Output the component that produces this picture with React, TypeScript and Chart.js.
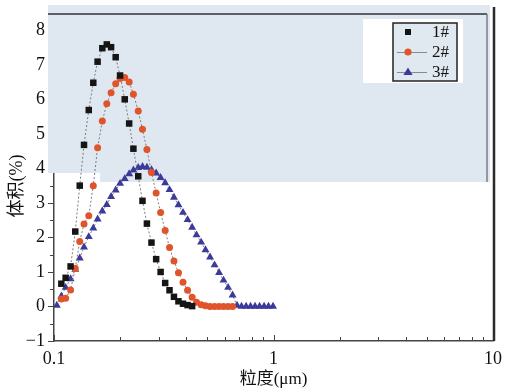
import React, { useEffect, useRef } from 'react';
import { Chart, registerables } from 'chart.js';

Chart.register(...registerables);

// particle size bins (μm)
const SIZE_UM = [
  0.103, 0.108, 0.113, 0.119, 0.125, 0.131, 0.137, 0.144, 0.151, 0.158,
  0.166, 0.174, 0.182, 0.191, 0.200, 0.210, 0.220, 0.230, 0.242, 0.253,
  0.265, 0.278, 0.292, 0.306, 0.321, 0.336, 0.352, 0.369, 0.387, 0.406,
  0.426, 0.446, 0.468, 0.490, 0.514, 0.539, 0.565, 0.592, 0.621, 0.651,
  0.682, 0.715, 0.750, 0.786, 0.824, 0.864, 0.906, 0.949, 0.995,
];

// volume (%) for each sample, null = no point
const SAMPLE_1 = [
  null, 0.66, 0.83, 1.16, 2.17, 3.5, 4.68, 5.69, 6.48, 7.09,
  7.48, 7.59, 7.51, 7.22, 6.69, 6.0, 5.3, 4.57, 3.77, 3.06,
  2.4, 1.85, 1.37, 1.0, 0.68, 0.47, 0.28, 0.15, 0.08, 0.04,
  0.01, null, null, null, null, null, null, null, null, null,
  null, null, null, null, null, null, null, null, null,
];
const SAMPLE_2 = [
  null, 0.22, 0.24, 0.48, 1.1, 1.88, 2.39, 2.63, 3.5, 4.6,
  5.37, 5.87, 6.19, 6.45, 6.6, 6.63, 6.5, 6.15, 5.66, 5.13,
  4.55, 3.88, 3.29, 2.72, 2.2, 1.71, 1.32, 0.98, 0.7, 0.47,
  0.27, 0.12, 0.05, 0.02, 0, 0, 0, 0, 0, 0,
  null, null, null, null, null, null, null, null, null,
];
const SAMPLE_3 = [
  0.03, 0.3, 0.55, 0.8, 1.07, 1.4, 1.72, 2.02, 2.27, 2.53,
  2.76, 2.95, 3.18, 3.37, 3.56, 3.7, 3.84, 3.95, 4.02, 4.05,
  4.03, 3.96, 3.86, 3.73, 3.58, 3.38, 3.16, 2.94, 2.72, 2.51,
  2.29, 2.07, 1.86, 1.64, 1.43, 1.2, 0.98, 0.76, 0.55, 0.33,
  0.03, 0, 0, 0, 0, 0, 0, 0, 0,
];

const SERIES_NAMES = ['1#', '2#', '3#'];
const X_TICKS = [0.1, 1, 10];
const Y_TICKS = [-1, 0, 1, 2, 3, 4, 5, 6, 7, 8];
const X_TITLE = '粒度(μm)';
const Y_TITLE = '体积(%)';

const SERIF = "'Liberation Serif', 'Noto Sans CJK SC', serif";
const C_BLACK = '#151515';
const C_RED = '#e0542c';
const C_BLUE = '#3b3a9a';
const PANEL = '#dfe8f0';

function pairs(values: (number | null)[]) {
  return SIZE_UM.map((x, i) => ({ x, y: values[i] })).filter((p) => p.y !== null);
}

function drawSymbol(ctx: CanvasRenderingContext2D, style: string, x: number, y: number, color: string) {
  ctx.fillStyle = color;
  ctx.beginPath();
  if (style === 'rect') {
    ctx.rect(x - 3, y - 3, 6, 6);
  } else if (style === 'circle') {
    ctx.arc(x, y, 3.6, 0, Math.PI * 2);
  } else {
    ctx.moveTo(x, y - 4.5);
    ctx.lineTo(x + 4.6, y + 3);
    ctx.lineTo(x - 4.6, y + 3);
    ctx.closePath();
  }
  ctx.fill();
}

const decor = {
  id: 'decor',
  beforeDatasetsDraw(chart: any) {
    const { ctx, chartArea: a, scales } = chart;
    const xs = scales.x;
    const ys = scales.y;
    ctx.save();
    // tick marks: y outward, x inward
    ctx.strokeStyle = '#444';
    ctx.lineWidth = 1;
    for (let v = Y_TICKS[0]; v <= Y_TICKS[Y_TICKS.length - 1]; v += 0.5) {
      const py = Math.round(ys.getPixelForValue(v)) + 0.5;
      const len = Number.isInteger(v) ? 6 : 4;
      ctx.beginPath();
      ctx.moveTo(a.left - len, py);
      ctx.lineTo(a.left, py);
      ctx.stroke();
    }
    for (let d = 0; d < X_TICKS.length; d++) {
      const base = X_TICKS[d];
      const kMax = d === X_TICKS.length - 1 ? 1 : 9;
      for (let k = 1; k <= kMax; k++) {
        const px = Math.round(xs.getPixelForValue(base * k)) + 0.5;
        const len = k === 1 ? 6 : 4;
        ctx.beginPath();
        ctx.moveTo(px, a.bottom);
        ctx.lineTo(px, a.bottom - len);
        ctx.stroke();
      }
    }
    // light panel over upper part
    ctx.fillStyle = PANEL;
    ctx.fillRect(a.left - 6, a.top - 8, 52, 168);
    ctx.fillRect(a.left + 46, a.top - 8, a.right - 3 - (a.left + 46), 177);
    ctx.strokeStyle = '#5a5f66';
    ctx.lineWidth = 2;
    ctx.beginPath();
    ctx.moveTo(a.left - 6, a.top + 1);
    ctx.lineTo(a.right - 6, a.top + 1);
    ctx.stroke();
    ctx.strokeStyle = '#7a7f86';
    ctx.lineWidth = 1.5;
    ctx.beginPath();
    ctx.moveTo(a.right - 6, a.top + 1);
    ctx.lineTo(a.right - 6, a.top + 169);
    ctx.stroke();
    // right axis
    ctx.strokeStyle = '#2a2a2a';
    ctx.lineWidth = 2.5;
    ctx.beginPath();
    ctx.moveTo(a.right + 1, a.top - 6);
    ctx.lineTo(a.right + 1, a.bottom);
    ctx.stroke();
    ctx.restore();
  },
  afterDraw(chart: any) {
    const { ctx, chartArea: a } = chart;
    ctx.save();
    ctx.fillStyle = '#ffffff';
    ctx.fillRect(a.right - 130, a.top + 6, 100, 64);
    ctx.fillStyle = '#e1e9f0';
    ctx.fillRect(a.right - 100, a.top + 10, 64, 58);
    ctx.strokeStyle = '#222';
    ctx.lineWidth = 1.5;
    ctx.strokeRect(a.right - 100, a.top + 10, 64, 58);
    const styles = ['rect', 'circle', 'triangle'];
    const colors = [C_BLACK, C_RED, C_BLUE];
    SERIES_NAMES.forEach((name, i) => {
      const cy = a.top + 19 + i * 20;
      if (i > 0) {
        ctx.strokeStyle = '#8a8a8a';
        ctx.lineWidth = 1;
        ctx.beginPath();
        ctx.moveTo(a.right - 96, cy + 0.5);
        ctx.lineTo(a.right - 66, cy + 0.5);
        ctx.stroke();
      }
      drawSymbol(ctx, styles[i], a.right - 85, cy, colors[i]);
      ctx.fillStyle = '#111';
      ctx.font = `17px ${SERIF}`;
      ctx.textBaseline = 'middle';
      ctx.textAlign = 'left';
      ctx.fillText(name, a.right - 61, cy + 1);
    });
    ctx.restore();
  },
};

export default function App() {
  const ref = useRef<HTMLCanvasElement | null>(null);

  useEffect(() => {
    if (!ref.current) return;
    const line = { showLine: true, borderColor: '#7c7c7c', borderWidth: 1, borderDash: [2, 2], pointBorderWidth: 0 };
    const chart = new Chart(ref.current, {
      type: 'scatter',
      data: {
        datasets: [
          {
            ...line,
            label: SERIES_NAMES[0],
            data: pairs(SAMPLE_1),
            pointStyle: 'rect',
            pointRadius: 4.6,
            pointBackgroundColor: C_BLACK,
            pointBorderColor: C_BLACK,
          },
          {
            ...line,
            label: SERIES_NAMES[1],
            data: pairs(SAMPLE_2),
            pointStyle: 'circle',
            pointRadius: 3.5,
            pointBackgroundColor: C_RED,
            pointBorderColor: C_RED,
          },
          {
            ...line,
            label: SERIES_NAMES[2],
            data: pairs(SAMPLE_3),
            pointStyle: 'triangle',
            pointRadius: 4.6,
            pointBackgroundColor: C_BLUE,
            pointBorderColor: C_BLUE,
          },
        ],
      } as any,
      options: {
        animation: false,
        responsive: false,
        maintainAspectRatio: false,
        layout: { padding: { top: 13, right: 12, left: 0, bottom: 0 } },
        plugins: { legend: { display: false }, tooltip: { enabled: false } },
        scales: {
          x: {
            type: 'logarithmic',
            min: 0.1,
            max: 10,
            afterBuildTicks: (s: any) => {
              s.ticks = X_TICKS.map((v) => ({ value: v }));
            },
            afterFit: (s: any) => {
              s.height = 49;
              s.paddingLeft = 0;
              s.paddingRight = 0;
            },
            grid: { display: false, drawTicks: false },
            border: { display: true, color: '#444', width: 1.5 },
            ticks: {
              padding: 7,
              autoSkip: false,
              maxRotation: 0,
              color: '#111',
              font: { family: SERIF, size: 18 },
              callback: (v: any) => String(v),
            },
            title: {
              display: true,
              text: X_TITLE,
              color: '#111',
              font: { family: SERIF, size: 17 },
              padding: { top: 0, bottom: 0 },
            },
          },
          y: {
            type: 'linear',
            min: -1,
            max: 8.5,
            afterBuildTicks: (s: any) => {
              s.ticks = Y_TICKS.map((v) => ({ value: v }));
            },
            afterFit: (s: any) => {
              s.width = 54;
              s.paddingTop = 0;
              s.paddingBottom = 0;
            },
            grid: { display: false, drawTicks: false },
            border: { display: true, color: '#444', width: 1.5 },
            ticks: {
              padding: 9,
              color: '#111',
              font: { family: SERIF, size: 18 },
              callback: (v: any) => (v < 0 ? '\u2212' + Math.abs(v) : String(v)),
            },
            title: {
              display: true,
              text: Y_TITLE + '    ',
              color: '#111',
              font: { family: SERIF, size: 18 },
              padding: { top: 6, bottom: 0 },
            },
          },
        },
      } as any,
      plugins: [decor],
    });
    return () => chart.destroy();
  }, []);

  return (
    <div style={{ position: 'fixed', left: 0, top: 0, width: 505, height: 390, background: '#fff' }}>
      <canvas ref={ref} width={505} height={390} style={{ width: 505, height: 390, display: 'block' }} />
    </div>
  );
}
